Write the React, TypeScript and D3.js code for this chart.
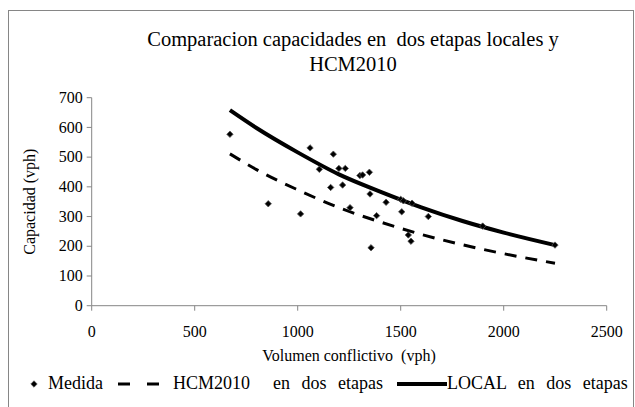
import * as d3 from 'd3'

// Measured points (conflicting volume vph, capacity vph)
const medidaX = [671, 857, 1014, 1060, 1105, 1160, 1173, 1200, 1218, 1231, 1254, 1302, 1315, 1348, 1351, 1356, 1383, 1429, 1500, 1505, 1513, 1537, 1550, 1555, 1634, 1898, 2249]
const medidaY = [577, 343, 309, 531, 459, 398, 510, 462, 406, 462, 330, 438, 440, 449, 376, 195, 303, 348, 358, 316, 353, 238, 217, 345, 300, 268, 204]

// Curves
const curveX = [671, 800, 1000, 1200, 1400, 1600, 1800, 2000, 2249]
const hcmY = [511, 458, 390, 330, 282, 240, 205, 175, 143]
const localY = [658, 598, 516, 442, 384, 331, 285, 246, 204]

const xTicks = [0, 500, 1000, 1500, 2000, 2500]
const yTicks = [0, 100, 200, 300, 400, 500, 600, 700]

const FONT = 'Liberation Serif'
const AXIS = '#868686'
const W = 635
const H = 407

const x = d3.scaleLinear().domain([0, 2500]).range([91.7, 606.7])
const y = d3.scaleLinear().domain([0, 700]).range([305.7, 97.7])

const line = d3.line<[number, number]>()
  .x((d) => x(d[0]))
  .y((d) => y(d[1]))
  .curve(d3.curveMonotoneX)

const diamond = d3.symbol().type(d3.symbolDiamond2).size(26)()!

const txt = { fontFamily: FONT, whiteSpace: 'pre' as const }
const legendTxt = { fontFamily: FONT, whiteSpace: 'pre' as const, wordSpacing: '7px' }

export default function App() {
  const hcm = line(curveX.map((v, i) => [v, hcmY[i]] as [number, number]))!
  const local = line(curveX.map((v, i) => [v, localY[i]] as [number, number]))!
  const ly = 389

  return (
    <svg
      width={W}
      height={H}
      viewBox={`0 0 ${W} ${H}`}
      style={{ position: 'absolute', left: 0, top: 0, display: 'block', background: '#fff', fontFamily: FONT }}
    >
      <rect x={8.5} y={10.5} width={W - 10} height={H - 10} fill="#fff" stroke={AXIS} />

      {/* Title */}
      <text x={353} y={46} textAnchor="middle" fontSize={20.5} style={txt}>
        Comparacion capacidades en  dos etapas locales y
      </text>
      <text x={353} y={71} textAnchor="middle" fontSize={20.5} style={txt}>
        HCM2010
      </text>

      {/* Y axis */}
      <path d={`M${x(0)},${y(700)}V${y(0)}`} stroke={AXIS} fill="none" />
      {yTicks.map((t) => (
        <g key={t} transform={`translate(${x(0)},${y(t)})`}>
          <line x1={-5} x2={0} stroke={AXIS} />
          <text x={-9} dy="0.32em" textAnchor="end" fontSize={16} style={txt}>
            {t}
          </text>
        </g>
      ))}

      {/* X axis */}
      <path d={`M${x(0)},${y(0)}H${x(2500)}`} stroke={AXIS} fill="none" />
      {xTicks.map((t) => (
        <g key={t} transform={`translate(${x(t)},${y(0)})`}>
          <line y1={0} y2={5} stroke={AXIS} />
          <text y={31} textAnchor="middle" fontSize={16} style={txt}>
            {t}
          </text>
        </g>
      ))}

      {/* Axis titles */}
      <text x={349} y={361} textAnchor="middle" fontSize={16} style={txt}>
        Volumen conflictivo  (vph)
      </text>
      <text
        transform="rotate(-90)"
        x={-y(350)}
        y={35}
        textAnchor="middle"
        fontSize={16}
        style={txt}
      >
        Capacidad (vph)
      </text>

      {/* Curves */}
      <path d={hcm} fill="none" stroke="#000" strokeWidth={3} strokeDasharray="12,9" />
      <path d={local} fill="none" stroke="#000" strokeWidth={4} />

      {/* Measured */}
      {medidaX.map((v, i) => (
        <path
          key={i}
          transform={`translate(${x(v)},${y(medidaY[i])})`}
          d={diamond}
          fill="#000"
          stroke="#555"
          strokeWidth={0.8}
        />
      ))}

      {/* Legend */}
      <path transform={`translate(34,${ly - 5})`} d={diamond} fill="#000" stroke="#555" strokeWidth={0.8} />
      <text x={48} y={ly} fontSize={18} style={legendTxt}>Medida</text>
      <line x1={118} x2={170} y1={ly - 5} y2={ly - 5} stroke="#000" strokeWidth={3} strokeDasharray="12,17" />
      <text x={173} y={ly} fontSize={18} style={legendTxt}>HCM2010  en dos etapas</text>
      <line x1={397} x2={447} y1={ly - 5} y2={ly - 5} stroke="#000" strokeWidth={4} />
      <text x={447} y={ly} fontSize={18} style={legendTxt}>LOCAL en dos etapas</text>
    </svg>
  )
}
